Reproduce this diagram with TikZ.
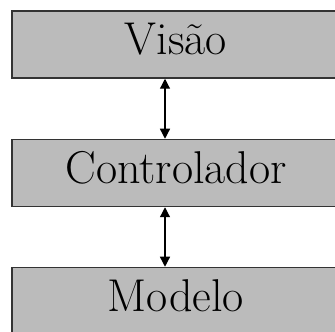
\documentclass[tikz,border=0pt]{standalone}
\usepackage{fontspec}
\usetikzlibrary{arrows.meta}
\definecolor{boxgray}{HTML}{BBBBBB}
\definecolor{edgegray}{HTML}{333333}
\tikzset{
  layer/.style={draw=edgegray, line width=1.5pt, fill=boxgray, rectangle,
    minimum width=328pt, minimum height=67pt, inner sep=0pt,
    text height=30pt, text depth=9pt,
    font=\fontsize{46}{46}\selectfont},
  link/.style={line width=1.2pt, {Triangle[length=10pt,width=10pt]}-{Triangle[length=10pt,width=10pt]}}
}
\begin{document}
\begin{tikzpicture}[x=1pt,y=1pt]
\useasboundingbox (0,0) rectangle (335,332);
\clip (0,0) rectangle (335,332);
\node[layer] (vis) at (176,287.5) {Visão};
\node[layer] (ctl) at (176,159) {Controlador};
\node[layer] (mod) at (176,31) {Modelo};
\draw[link] ([xshift=-11pt]vis.south) -- ([xshift=-11pt]ctl.north);
\draw[link] ([xshift=-11pt]ctl.south) -- ([xshift=-11pt]mod.north);
\end{tikzpicture}
\end{document}
